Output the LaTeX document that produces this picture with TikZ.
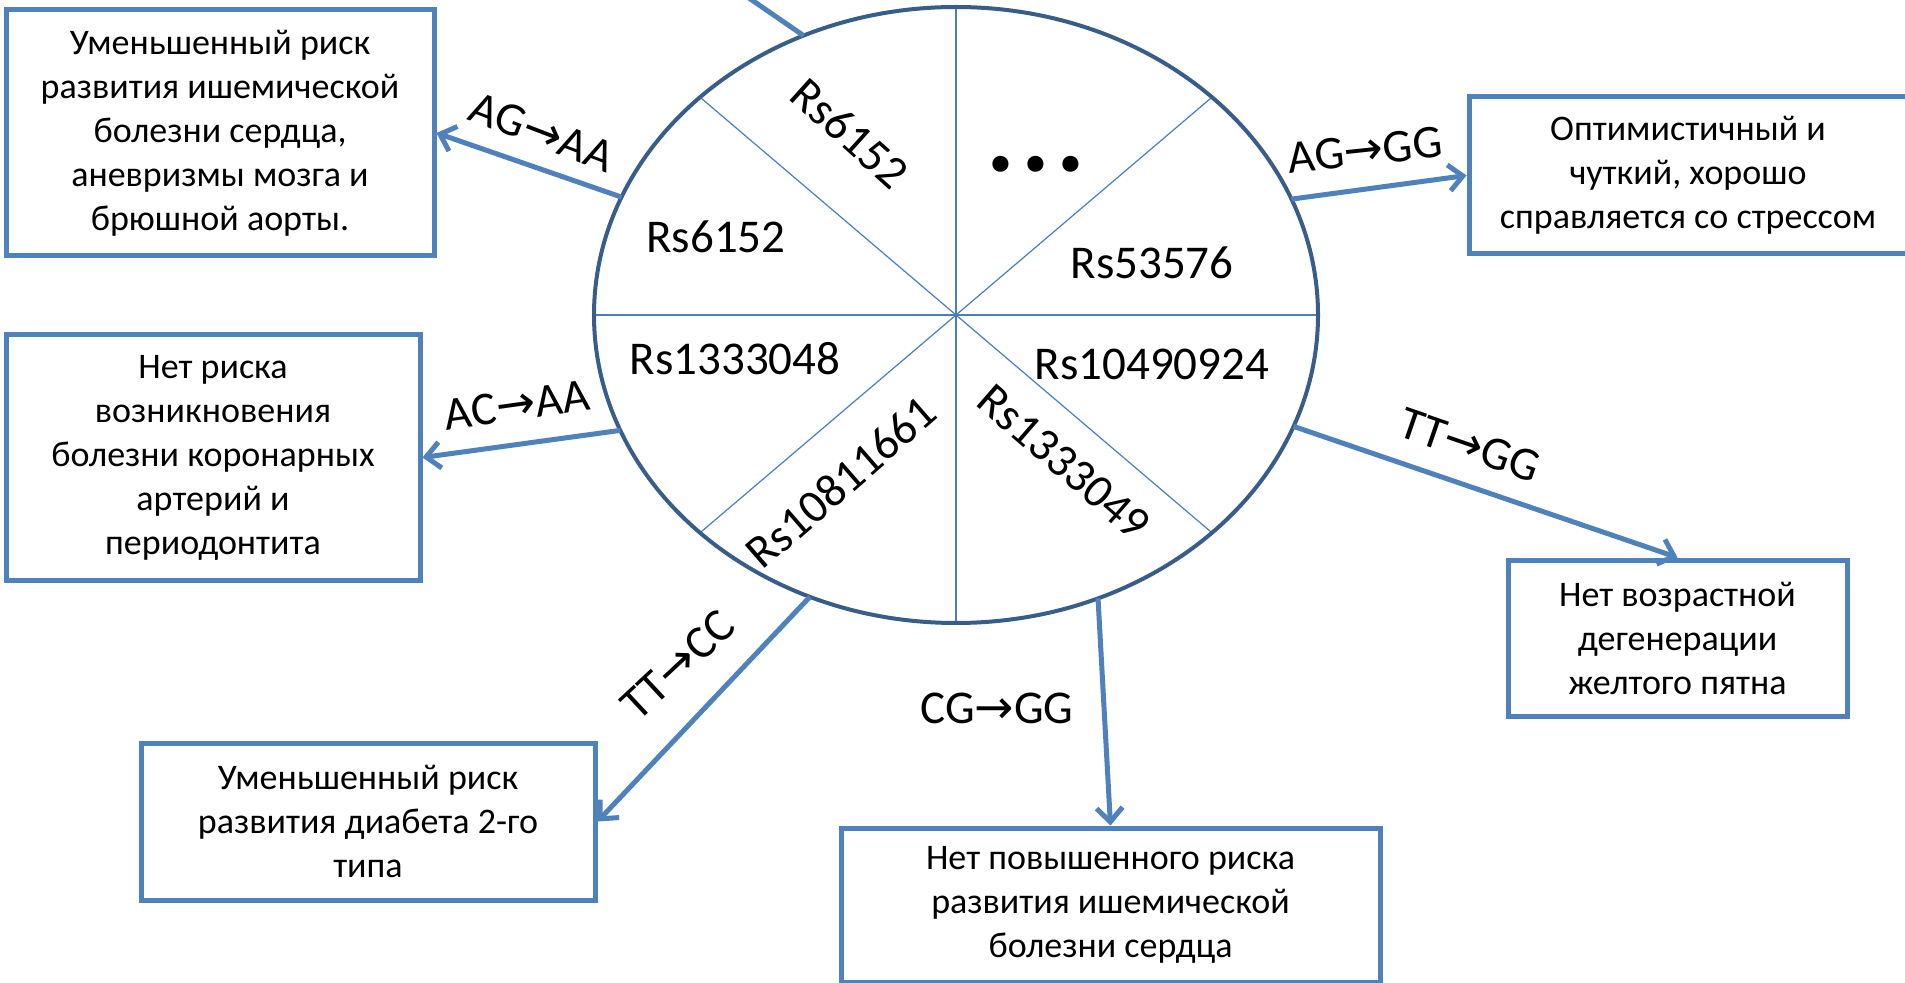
\documentclass[tikz,border=0pt]{standalone}
\usepackage{fontspec}
\setmainfont{Carlito}
\newfontfamily\arrfont{DejaVu Sans}
\newcommand{\rarrow}{{\arrfont →}}
\usetikzlibrary{arrows.meta,calc}
\definecolor{boxblue}{HTML}{4F81BD}
\definecolor{ellblue}{HTML}{385D8A}
\definecolor{lineblue}{HTML}{4A7EBB}
\begin{document}
\begin{tikzpicture}[x=0.5pt,y=-0.5pt,
  box/.style={draw=boxblue,line width=2.5pt,fill=white,align=center,inner sep=0pt,
    font=\fontsize{18pt}{22pt}\selectfont},
  conn/.style={draw=boxblue,line width=2.5pt,-{Straight Barb[length=7pt,width=13pt]}},
  plainconn/.style={draw=boxblue,line width=2.5pt},
  lbl/.style={font=\fontsize{23.5pt}{28pt}\selectfont,inner sep=0pt},
  sector/.style={draw=lineblue,line width=0.6pt},
  ell/.style={draw=ellblue,line width=2pt}]
\fill[white] (0,0) rectangle (1905,983);
\useasboundingbox (0,0) rectangle (1905,983);
\clip (0,0) rectangle (1905,983);

% ellipse and sectors
\coordinate (C) at (956,315);
\path (C) ++(0:362 and 308) coordinate (pE)
      (C) ++(180:362 and 308) coordinate (pW)
      (C) ++(-90:362 and 308) coordinate (pN)
      (C) ++(90:362 and 308) coordinate (pS)
      (C) ++(-45:362 and 308) coordinate (pNE)
      (C) ++(-135:362 and 308) coordinate (pNW)
      (C) ++(135:362 and 308) coordinate (pSW)
      (C) ++(45:362 and 308) coordinate (pSE);
\draw[sector] (pW) -- (pE);
\draw[sector] (pN) -- (pS);
\draw[sector] (pNW) -- (pSE);
\draw[sector] (pNE) -- (pSW);
\draw[ell] (C) ellipse [x radius=362, y radius=308];

% ellipse labels
\node[lbl,rotate=-42] (rsA) at (850,133) {Rs6152};
\node[lbl,anchor=base] (rsB) at (716,253) {Rs6152};
\node[lbl,anchor=base] (rsC) at (1152,279) {Rs53576};
\node[lbl,anchor=base] (rsD) at (735,375) {Rs1333048};
\node[lbl,anchor=base] (rsE) at (1152,380) {Rs10490924};
\node[lbl,rotate=41] (rsF) at (841,482) {Rs10811661};
\node[lbl,rotate=-41] (rsG) at (1064,462) {Rs1333049};
\node[inner sep=0pt,font=\bfseries\fontsize{54pt}{54pt}\selectfont] (dots) at (1036,164) {.\kern3pt.\kern3pt.};

% boxes
\node[box,minimum width=214pt,minimum height=123pt] (b1) at (220,133)
  {Уменьшенный риск\\развития ишемической\\болезни сердца,\\аневризмы мозга и\\брюшной аорты.};
\node[box,minimum width=207pt,minimum height=122.5pt] (b2) at (213,457.5)
  {Нет риска\\возникновения\\болезни коронарных\\артерий и\\периодонтита};
\node[box,minimum width=227pt,minimum height=78.5pt] (b3) at (368,821.5)
  {Уменьшенный риск\\развития диабета 2-го\\типа};
\node[box,minimum width=269.5pt,minimum height=77pt] (b4) at (1110.5,905)
  {Нет повышенного риска\\развития ишемической\\болезни сердца};
\node[box,minimum width=169.5pt,minimum height=78pt] (b5) at (1677.5,638)
  {Нет возрастной\\дегенерации\\желтого пятна};
\node[box,minimum width=219pt,minimum height=78.5pt] (b6) at (1688,175.5)
  {Оптимистичный и\\чуткий, хорошо\\справляется со стрессом};

% connector start points on the ellipse
\path (C) ++(-157.5:362 and 308) coordinate (s1)
      (C) ++(158:362 and 308) coordinate (s2)
      (C) ++(-22.1:362 and 308) coordinate (s3)
      (C) ++(21.2:362 and 308) coordinate (s4)
      (C) ++(66.9:362 and 308) coordinate (s5)
      (C) ++(113.8:362 and 308) coordinate (s6)
      (C) ++(-114.9:362 and 308) coordinate (s0);
\coordinate (e0) at (730,-15);

\draw[conn] (s1) -- (b1.east);
\draw[conn] (s2) -- (b2.east);
\draw[conn] (s3) -- (b6.west);
\draw[conn] (s4) -- (b5.north);
\draw[conn] (s5) -- (b4.north);
\draw[conn] (s6) -- (b3.east);
\draw[plainconn] (s0) -- (e0);

% connector labels
\node[lbl,rotate=-21] (l1) at (542,132) {AG\rarrow AA};
\node[lbl,rotate=8] (l2) at (517,405) {AC\rarrow AA};
\node[lbl,rotate=6] (l3) at (1365,150) {AG\rarrow GG};
\node[lbl,rotate=-19] (l4) at (1470,445) {TT\rarrow GG};
\node[lbl,rotate=43] (l6) at (678,665) {TT\rarrow CC};
\node[lbl] (l5) at (997,708) {CG\rarrow GG};
\end{tikzpicture}
\end{document}
